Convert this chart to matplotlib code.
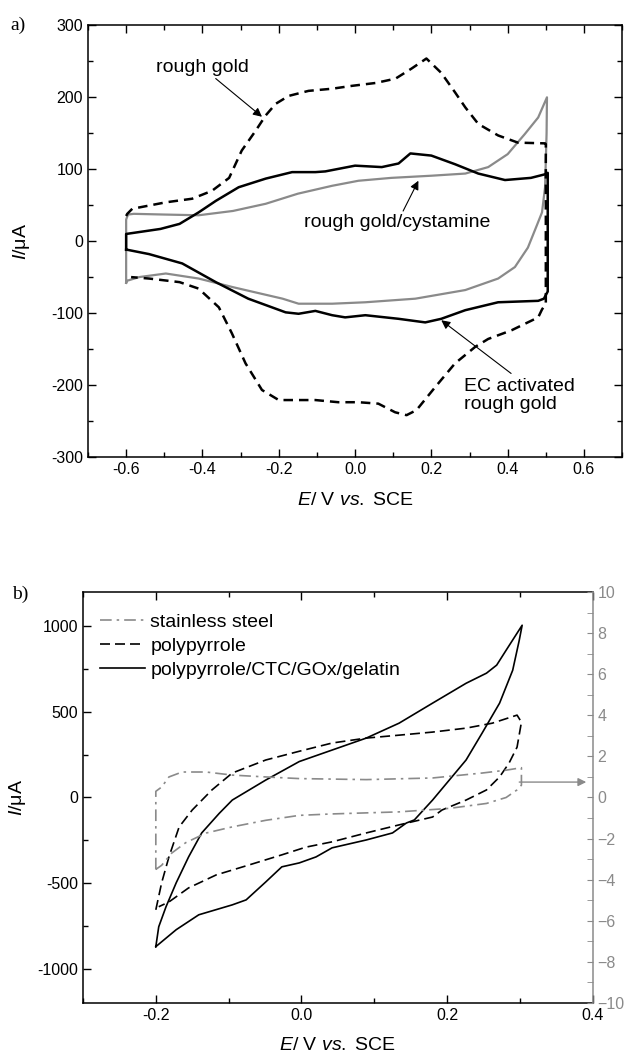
import matplotlib
matplotlib.use("Agg")
import matplotlib.pyplot as plt
from matplotlib.ticker import MultipleLocator
from matplotlib.lines import Line2D

plt.rcParams['font.family'] = ['Liberation Sans', 'DejaVu Sans']
plt.rcParams['mathtext.fontset'] = 'custom'
plt.rcParams['mathtext.rm'] = 'Liberation Sans'
plt.rcParams['mathtext.it'] = 'Liberation Sans:italic'

# ---- panel a data (E / V, I / uA) ----
rough_E = [-0.6, -0.597, -0.584, -0.496, -0.427, -0.375, -0.33, -0.297, -0.26,
           -0.234, -0.208, -0.174, -0.122, -0.06, -0.008, 0.054, 0.106, 0.148,
           0.187, 0.226, 0.262, 0.289, 0.323, 0.375, 0.427, 0.498, 0.5, 0.5,
           0.49, 0.48, 0.41, 0.349, 0.315, 0.262, 0.21, 0.161, 0.135, 0.105,
           0.061, 0.009, -0.044, -0.104, -0.2, -0.244, -0.287, -0.323, -0.357,
           -0.41, -0.46, -0.54, -0.587]
rough_I = [35, 38, 45, 54, 59, 70, 88, 126, 154, 175, 191, 202, 209, 212, 216,
           220, 226, 240, 254, 234, 207, 186, 163, 147, 137, 136, 135, -87,
           -95, -106, -124, -136, -147, -170, -203, -235, -242, -238, -226,
           -224, -224, -221, -221, -207, -170, -128, -92, -66, -57, -52, -50]

cyst_E = [-0.6, -0.6, -0.595, -0.58, -0.5, -0.41, -0.32, -0.234, -0.15, -0.06,
          0.009, 0.095, 0.2, 0.289, 0.349, 0.4, 0.445, 0.48, 0.503, 0.502,
          0.498, 0.49, 0.475, 0.453, 0.419, 0.375, 0.289, 0.158, 0.027, -0.06,
          -0.148, -0.19, -0.32, -0.41, -0.496, -0.566, -0.597, -0.6]
cyst_I = [-58, 30, 37, 38, 37, 36, 42, 52, 66, 77, 84, 88, 91, 94, 103, 121,
          149, 172, 200, 150, 75, 40, 20, -9, -36, -52, -68, -80, -85, -87,
          -87, -80, -64, -52, -45, -50, -55, -58]

ec_E = [-0.6, -0.6, -0.51, -0.46, -0.41, -0.365, -0.305, -0.234, -0.165,
        -0.104, -0.078, 0.0, 0.07, 0.114, 0.145, 0.2, 0.262, 0.323, 0.393,
        0.461, 0.498, 0.505, 0.505, 0.495, 0.48, 0.375, 0.289, 0.226, 0.184,
        0.114, 0.027, -0.026, -0.06, -0.104, -0.148, -0.182, -0.28, -0.365,
        -0.453, -0.54, -0.597, -0.6]
ec_I = [-12, 10, 17, 24, 40, 56, 75, 87, 96, 96, 97, 105, 103, 108, 122, 119,
        107, 94, 85, 88, 93, 95, -70, -80, -83, -85, -96, -108, -113, -108,
        -103, -106, -103, -97, -101, -99, -80, -57, -31, -18, -12, -12]

# ---- panel b data ----
steel_E = [-0.2, -0.2, -0.192, -0.182, -0.164, -0.131, -0.095, -0.049, -0.003,
           0.089, 0.18, 0.248, 0.281, 0.302, 0.302, 0.296, 0.281, 0.254, 0.203,
           0.134, 0.042, -0.003, -0.049, -0.095, -0.131, -0.159, -0.178,
           -0.192, -0.2]
steel_I = [-3.5, 0.3, 0.51, 1.0, 1.24, 1.24, 1.09, 1.0, 0.92, 0.87, 0.95, 1.19,
           1.33, 1.45, 0.6, 0.37, 0.0, -0.29, -0.53, -0.7, -0.8, -0.87, -1.11,
           -1.43, -1.73, -2.2, -2.7, -3.3, -3.5]

ppy_E = [-0.2, -0.192, -0.182, -0.168, -0.15, -0.123, -0.095, -0.049, -0.003,
         0.042, 0.089, 0.134, 0.18, 0.226, 0.262, 0.296, 0.302, 0.296, 0.285,
         0.272, 0.254, 0.226, 0.193, 0.18, 0.134, 0.089, 0.042, 0.006, -0.027,
         -0.072, -0.117, -0.155, -0.182, -0.196]
ppy_I = [-656, -498, -347, -172, -73, 44, 143, 219, 270, 318, 347, 364, 382,
         405, 434, 481, 440, 294, 201, 120, 44, -15, -73, -114, -160, -207,
         -259, -290, -335, -394, -452, -528, -610, -638]

gox_E = [-0.2, -0.196, -0.186, -0.172, -0.155, -0.137, -0.113, -0.095, -0.049,
         -0.003, 0.042, 0.089, 0.134, 0.18, 0.226, 0.254, 0.268, 0.281, 0.303,
         0.299, 0.29, 0.272, 0.248, 0.226, 0.203, 0.18, 0.155, 0.144, 0.125,
         0.089, 0.042, 0.02, -0.003, -0.027, -0.049, -0.076, -0.095, -0.141,
         -0.172, -0.2]
gox_I = [-871, -755, -638, -498, -347, -207, -93, -15, 102, 210, 277, 347, 434,
         551, 667, 726, 773, 860, 1006, 918, 743, 551, 376, 219, 102, -15,
         -131, -149, -207, -248, -294, -347, -382, -405, -493, -598, -627,
         -685, -772, -871]

GRAY = '#8a8a8a'
TICK_FS = 11.5
TXT_FS = 14

fig = plt.figure(figsize=(6.24, 10.6), dpi=100)


def style_ticks(ax):
    ax.tick_params(which='both', direction='in', labelsize=TICK_FS, width=1.0)
    ax.tick_params(which='major', length=5.8)
    ax.tick_params(which='minor', length=3.6)
    for s in ax.spines.values():
        s.set_linewidth(1.1)


# ---------------- panel a ----------------
ax = fig.add_axes([0.141, 0.569, 0.856, 0.407])
ax.plot(cyst_E, cyst_I, color=GRAY, lw=1.6)
ax.plot(rough_E, rough_I, color='black', lw=1.8, ls=(0, (3.8, 2.4)))
ax.plot(ec_E, ec_I, color='black', lw=1.8)
ax.set_xlim(-0.7, 0.7)
ax.set_ylim(-300, 300)
ax.xaxis.set_minor_locator(MultipleLocator(0.1))
ax.yaxis.set_minor_locator(MultipleLocator(50))
ax.set_xticks([-0.6, -0.4, -0.2, 0.0, 0.2, 0.4, 0.6])
ax.set_xticklabels(['-0.6', '-0.4', '-0.2', '0.0', '0.2', '0.4', '0.6'])
ax.set_yticks([-300, -200, -100, 0, 100, 200, 300])
ax.set_yticklabels(['-300', '-200', '-100', '0', '100', '200', '300'])
ax.tick_params(which='both', top=True, right=True)
style_ticks(ax)
ax.set_xlabel(r'$E$/ V $vs.$ SCE', fontsize=TXT_FS)
ax.set_ylabel(r'$I$/μA', fontsize=TXT_FS)
ax.yaxis.set_label_coords(-0.105, 0.5)
ax.xaxis.set_label_coords(0.5, -0.081)

arw = dict(arrowstyle='-|>', color='black', lw=0.8, mutation_scale=13,
           shrinkA=0, shrinkB=0)
ax.annotate('rough gold', xy=(-0.244, 173), xytext=(-0.401, 230),
            fontsize=TXT_FS, ha='center', va='bottom', arrowprops=arw)
ax.annotate('rough gold/cystamine', xy=(0.166, 84), xytext=(0.111, 38),
            fontsize=TXT_FS, ha='center', va='top', arrowprops=arw)
ax.annotate('', xy=(0.226, -110), xytext=(0.409, -184), arrowprops=arw)
ax.text(0.286, -191, 'EC activated\nrough gold', fontsize=TXT_FS,
        ha='left', va='top', linespacing=1.05)
fig.text(0.016, 1 - 25 / 1060, 'a)', family='Liberation Serif', fontsize=14,
         va='center', ha='left')

# ---------------- panel b ----------------
bx = fig.add_axes([0.133, 0.0538, 0.817, 0.3877])
bx.plot(ppy_E, ppy_I, color='black', lw=1.2, ls=(0, (6, 3)))
bx.plot(gox_E, gox_I, color='black', lw=1.2)
bx.set_xlim(-0.3, 0.4)
bx.set_ylim(-1200, 1200)
bx.set_xticks([-0.2, 0.0, 0.2, 0.4])
bx.set_xticklabels(['-0.2', '0.0', '0.2', '0.4'])
bx.xaxis.set_minor_locator(MultipleLocator(0.1))
bx.set_yticks([-1000, -500, 0, 500, 1000])
bx.set_yticklabels(['-1000', '-500', '0', '500', '1000'])
bx.yaxis.set_minor_locator(MultipleLocator(250))
bx.tick_params(which='both', top=True, right=False)
style_ticks(bx)
bx.spines['right'].set_visible(False)
bx.set_xlabel(r'$E$/ V $vs.$ SCE', fontsize=TXT_FS)
bx.set_ylabel(r'$I$/μA', fontsize=TXT_FS)
bx.yaxis.set_label_coords(-0.108, 0.5)
bx.xaxis.set_label_coords(0.5, -0.083)

rx = bx.twinx()
rx.plot(steel_E, steel_I, color=GRAY, lw=1.2, ls=(0, (7, 3, 1.5, 3)))
rx.set_ylim(-10, 10)
rx.set_yticks(range(-10, 11, 2))
rx.yaxis.set_minor_locator(MultipleLocator(1))
rx.tick_params(which='both', direction='in', labelsize=TICK_FS,
               colors=GRAY, length=4)
rx.spines['right'].set_color(GRAY)
rx.spines['right'].set_linewidth(1.1)
for side in ('left', 'top', 'bottom'):
    rx.spines[side].set_visible(False)
rx.annotate('', xy=(0.391, 0.75), xytext=(0.299, 0.75),
            arrowprops=dict(arrowstyle='-|>', color=GRAY, lw=1.0,
                            mutation_scale=12, shrinkA=0, shrinkB=0))

handles = [Line2D([], [], color=GRAY, lw=1.2, ls=(0, (7, 3, 1.5, 3))),
           Line2D([], [], color='black', lw=1.2, ls=(0, (6, 3))),
           Line2D([], [], color='black', lw=1.2)]
labels = ['stainless steel', 'polypyrrole', 'polypyrrole/CTC/GOx/gelatin']
rx.legend(handles, labels, loc='upper left', bbox_to_anchor=(0.033, 0.948),
          frameon=False, fontsize=TXT_FS, handlelength=2.3,
          handletextpad=0.3, labelspacing=0.32, borderpad=0,
          borderaxespad=0)
fig.text(0.019, 1 - 594 / 1060, 'b)', family='Liberation Serif', fontsize=14,
         va='center', ha='left')

fig.savefig('out.png', dpi=100)
